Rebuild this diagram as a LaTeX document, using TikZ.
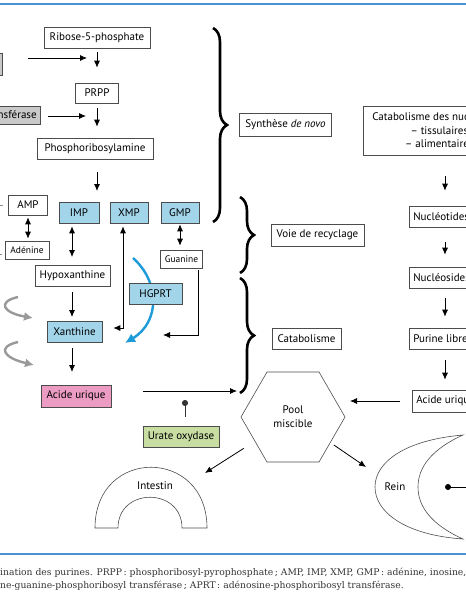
\documentclass[tikz,border=0pt]{standalone}
\usepackage{fontspec}
\setmainfont{PT Sans}
\newfontfamily\capfont{DejaVu Serif}
\usetikzlibrary{arrows.meta,shapes.geometric,decorations.pathreplacing,calc}

\definecolor{boxblue}{HTML}{A2D5EA}
\definecolor{boxpink}{HTML}{EC9CC2}
\definecolor{boxgreen}{HTML}{C8DDA2}
\definecolor{boxgray}{HTML}{C9C9C9}
\definecolor{hgblue}{HTML}{1C9BD8}
\definecolor{ruleblue}{HTML}{4A92D2}

\tikzset{
  box/.style={draw=black!70, line width=0.6pt, inner xsep=4pt, inner ysep=0pt,
    minimum height=21pt, font=\fontsize{11}{12}\selectfont},
  smallbox/.style={box, minimum height=18pt, font=\fontsize{9.5}{10}\selectfont},
  bluebox/.style={box, fill=boxblue},
  arr/.style={-{Latex[length=7pt,width=6pt]}, line width=0.8pt},
  darr/.style={{Latex[length=7pt,width=6pt]}-{Latex[length=7pt,width=6pt]}, line width=0.8pt},
  inh/.style={-{Circle[length=6pt]}, line width=0.8pt, black!80},
  grayarr/.style={-{Latex[length=9pt,width=9pt]}, line width=2.4pt, black!40},
  hgarr/.style={-{Latex[length=10pt,width=10pt]}, line width=2.4pt, hgblue},
  accolade/.style={decorate, decoration={brace, amplitude=14pt}, line width=2.6pt},
  regle/.style={line width=1.4pt, ruleblue},
}

\begin{document}
\begin{tikzpicture}[x=1pt, y=-1pt]
  \useasboundingbox (0,0) rectangle (466,600);
  \clip (0,0) rectangle (466,600);

  %%%%% rules %%%%%
  \draw[regle] (-2,4) -- (468,4);
  \draw[regle] (-2,554) -- (468,554);

  %%%%% de novo %%%%%
  \node[box, minimum width=106pt] (ribose) at (97,37.5) {Ribose-5-phosphate};
  \node[box, minimum width=43pt, minimum height=20pt] (prpp) at (97,93) {PRPP};
  \node[box, minimum width=116pt] (pribam) at (95,148.5) {Phosphoribosylamine};
  \node[box, fill=boxgray, minimum width=43pt, minimum height=22pt, anchor=east] (enzA) at (3,64) {};
  \node[box, fill=boxgray, minimum height=18pt, anchor=east] (enzB) at (41,115) {amidotransférase};

  \coordinate (conv1) at (87,58);
  \coordinate (conv2) at (86,116);
  \coordinate (improw) at (97,191);

  \draw[arr, shorten <=4pt, shorten >=15pt] (ribose.south -| prpp.north) -- (prpp.north);
  \draw[arr, shorten <=5pt, shorten >=11pt] (prpp.south) -- (prpp.south |- pribam.north);
  \draw[arr, shorten <=13pt] (pribam.south -| improw) -- (improw);
  \draw[arr, shorten <=25pt] (enzA.east |- conv1) -- (conv1);
  \draw[arr, shorten <=7pt] (enzB.east |- conv2) -- (conv2);

  %%%%% recyclage %%%%%
  \draw[black!45, line width=0.8pt] (-4,205) -- (3,205);
  \draw[black!45, line width=0.8pt] (-4,254) -- (2,254);
  \node[box, minimum width=39pt, minimum height=20pt] (amp) at (28,205) {AMP};
  \node[bluebox, minimum width=40pt] (imp) at (79,212.5) {IMP};
  \node[bluebox, minimum width=38pt] (xmp) at (129,212.5) {XMP};
  \node[bluebox, minimum width=38pt] (gmp) at (180,212.5) {GMP};
  \node[smallbox, minimum width=44pt] (adenine) at (27,250) {Adénine};
  \node[smallbox, minimum width=41pt] (guanine) at (181.5,259) {Guanine};
  \node[box, minimum width=75pt] (hypo) at (72.5,275.5) {Hypoxanthine};

  \draw[hgarr] (133,258) .. controls (160,282) and (160,322) .. (125,343);
  \node[bluebox, minimum width=53pt] (hgprt) at (155.5,294) {HGPRT};
  \node[bluebox, minimum width=55pt] (xanth) at (74.5,331.5) {Xanthine};

  \draw[darr, shorten <=2pt, shorten >=2pt] (amp.south) -- (amp.south |- adenine.north);
  \draw[darr, shorten <=3pt, shorten >=8pt] (imp.south -| 72,0) -- (72,265);
  \draw[darr, shorten <=1pt, shorten >=4pt] (gmp.south) -- (gmp.south |- guanine.north);
  \draw[arr, shorten <=6pt, shorten >=4pt] (hypo.south -| 72,0) -- (72,321);

  \coordinate (xcorner) at (123,328);
  \draw[darr, shorten <=11pt, shorten >=3pt] (xanth.east |- xcorner) -- (xcorner) -- (xcorner |- xmp.south);
  \coordinate (gcorner) at (198,335);
  \coordinate (gtip) at (163,335);
  \draw[arr, shorten <=2pt] (guanine.south -| gcorner) -- (gcorner) -- (gtip);

  \draw[grayarr] (18,297) .. controls (-4,302) and (4,313) .. (33,318);
  \draw[grayarr] (18,342) .. controls (-4,347) and (4,358) .. (34,365);

  %%%%% catabolisme %%%%%
  \node[box, fill=boxpink, minimum width=70pt, minimum height=22pt] (acide) at (76,396) {Acide urique};
  \node[box, fill=boxgreen, minimum width=76pt] (urate) at (181,436.5) {Urate oxydase};
  \draw[arr, shorten <=6pt, shorten >=13pt] (xanth.south -| 72,0) -- (72,385);

  \coordinate (cataend) at (237,391);
  \draw[arr, shorten <=32pt] (acide.east |- cataend) -- (cataend);
  \coordinate (inhib) at (185,400);
  \draw[inh, shorten <=9pt] (urate.north -| inhib) -- (inhib);

  %%%%% accolades %%%%%
  \draw[accolade] (213,28) -- (213,222);
  \draw[accolade] (240,197) -- (240,273);
  \draw[accolade] (240,278) -- (240,393);
  \node[box, minimum width=92pt, minimum height=23pt] (synth) at (285.5,124.5) {Synthèse \emph{de novo}};
  \node[box, minimum width=93pt, minimum height=22pt] (recycl) at (317.5,235) {Voie de recyclage};
  \node[box, minimum width=69pt] (catab) at (306.5,338.5) {Catabolisme};

  %%%%% colonne droite %%%%%
  \node[box, align=center, inner xsep=9pt, minimum height=49pt, anchor=west,
    font=\fontsize{11}{13.5}\selectfont] (catnuc) at (363,130.5)
    {Catabolisme des nucléotides\\– tissulaires\\– alimentaires};
  \node[box, anchor=west] (nucleot) at (409,216.5) {Nucléotides};
  \node[box, anchor=west] (nucleos) at (409,277.5) {Nucléosides};
  \node[box, anchor=west] (purine) at (409,338.5) {Purine libre};
  \node[box, anchor=west, minimum height=22pt] (acideR) at (412,401) {Acide urique};

  \coordinate (colx) at (445,0);
  \draw[arr, shorten <=21pt, shorten >=15pt] (catnuc.south -| colx) -- (nucleot.north -| colx);
  \draw[arr, shorten <=15pt, shorten >=12pt] (nucleot.south -| colx) -- (nucleos.north -| colx);
  \draw[arr, shorten <=10pt, shorten >=11pt] (nucleos.south -| colx) -- (purine.north -| colx);
  \draw[arr, shorten <=11pt, shorten >=10pt] (purine.south -| colx) -- (acideR.north -| colx);

  %%%%% pool, intestin, rein %%%%%
  \node[regular polygon, regular polygon sides=6, minimum size=104pt, inner sep=0pt,
    draw=black!70, line width=0.6pt, align=center,
    font=\fontsize{11}{14}\selectfont] (pool) at (293,417) {Pool\\miscible};

  \coordinate (pooltip) at (350,401);
  \coordinate (inttip) at (205,473);
  \coordinate (reintip) at (366,467);
  \draw[arr, shorten <=12pt] (acideR.west) -- (pooltip);
  \draw[arr, shorten <=13pt] (pool) -- (inttip);
  \draw[arr, shorten <=4pt] (pool) -- (reintip);

  \draw[black!70, line width=0.6pt] (95,528) .. controls (95,447) and (207,447) .. (207,528)
    -- (182,528) .. controls (182,487) and (118,487) .. (118,528) -- cycle;
  \node[font=\fontsize{11}{12}\selectfont] (intestin) at (155,486) {Intestin};

  \draw[black!70, line width=0.6pt] (463,435) .. controls (405,440) and (375,462) .. (375,487)
    .. controls (375,512) and (405,535) .. (463,539)
    .. controls (432,525) and (418,507) .. (418,487)
    .. controls (418,467) and (432,449) .. cycle;
  \node[font=\fontsize{11}{12}\selectfont] (rein) at (395,487) {Rein};
  \coordinate (reindot) at (448,487);
  \fill (reindot) circle (3);
  \draw[line width=0.8pt] (reindot) -- (472,487);

  %%%%% legende %%%%%
  \node[anchor=west, inner sep=0pt, text=black!80, font=\capfont\fontsize{9.2}{12}\selectfont] (cap1) at (0,573)
    {ination des purines. PRPP\,: phosphoribosyl-pyrophosphate\,; AMP, IMP, XMP, GMP\,: adénine, inosine, xanthosine, guanosine monophosphate\,;};
  \node[anchor=west, inner sep=0pt, text=black!80, font=\capfont\fontsize{9.2}{12}\selectfont] (cap2) at (0,586)
    {ne-guanine-phosphoribosyl transférase\,; APRT\,: adénosine-phosphoribosyl transférase.};
\end{tikzpicture}
\end{document}
